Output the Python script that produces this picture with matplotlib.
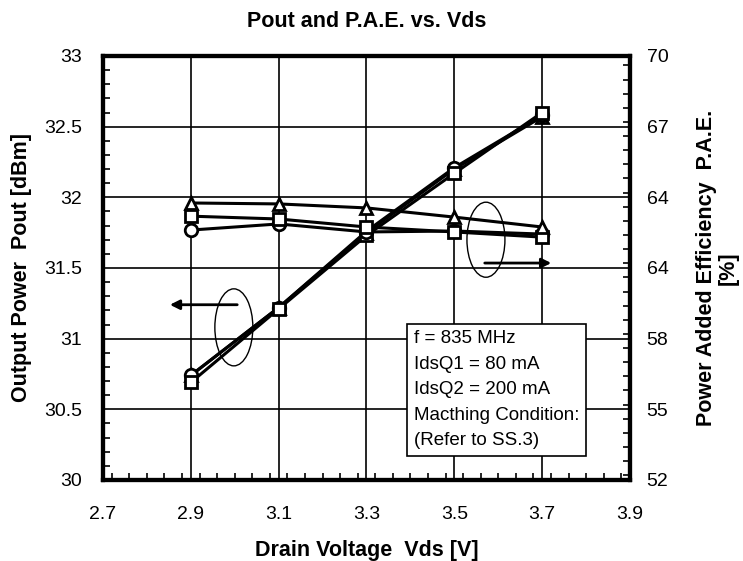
import numpy as np
import matplotlib
matplotlib.use('Agg')
import matplotlib.pyplot as plt
from matplotlib.patches import Ellipse
from matplotlib.ticker import MultipleLocator

vds = [2.9, 3.1, 3.3, 3.5, 3.7]

# Output power [dBm]
pout_tri = [30.74, 31.22, 31.75, 32.20, 32.57]
pout_circ = [30.74, 31.22, 31.76, 32.21, 32.58]
pout_sq = [30.69, 31.21, 31.73, 32.17, 32.60]

# Power added efficiency [%]
pae_tri = [63.76, 63.72, 63.55, 63.16, 62.74]
pae_sq = [63.20, 63.08, 62.74, 62.53, 62.31]
pae_circ = [62.61, 62.87, 62.53, 62.57, 62.44]

x_ticks = [2.7, 2.9, 3.1, 3.3, 3.5, 3.7, 3.9]
y_ticks = [30, 30.5, 31, 31.5, 32, 32.5, 33]
y_labels = ['30', '30.5', '31', '31.5', '32', '32.5', '33']
y2_ticks = [52, 55, 58, 61, 64, 67, 70]
y2_labels = ['52', '55', '58', '64', '64', '67', '70']

reg = ['Liberation Sans', 'DejaVu Sans']

fig = plt.figure(figsize=(7.43, 5.61), dpi=100)
ax = fig.add_axes([0.1386, 0.1444, 0.7093, 0.7558])
ax2 = ax.twinx()

ax.set_xlim(2.7, 3.9)
ax.set_ylim(30, 33)
ax2.set_ylim(52, 70)

ax.set_xticks(x_ticks)
ax.set_xticklabels([str(v) for v in x_ticks], family=reg, fontsize=14)
ax.set_yticks(y_ticks)
ax.set_yticklabels(y_labels, family=reg, fontsize=14)
ax2.set_yticks(y2_ticks)
ax2.set_yticklabels(y2_labels, family=reg, fontsize=14)

ax.xaxis.set_minor_locator(MultipleLocator(0.04))
ax.yaxis.set_minor_locator(MultipleLocator(0.1))
ax2.yaxis.set_minor_locator(MultipleLocator(0.6))

ax.tick_params(axis='both', which='both', direction='in', top=False, right=False, width=1.2)
ax.tick_params(axis='x', which='major', length=0, pad=19)
ax.tick_params(axis='y', which='major', length=0, pad=15)
ax.tick_params(which='minor', length=5)
ax2.tick_params(axis='y', which='both', direction='in', width=1.2)
ax2.tick_params(which='major', length=0, pad=12)
ax2.tick_params(which='minor', length=5)

ax.grid(True, which='major', color='black', linewidth=1.2)
ax.set_axisbelow(True)

for a in (ax, ax2):
    for s in a.spines.values():
        s.set_linewidth(3)

mk = dict(color='black', linewidth=2.2, markerfacecolor='white',
          markeredgecolor='black', markeredgewidth=2, markersize=9)

ax.plot(vds, pout_tri, marker='^', **mk)
ax.plot(vds, pout_circ, marker='o', **mk)
ax.plot(vds, pout_sq, marker='s', **mk)

ax2.plot(vds, pae_circ, marker='o', **mk)
ax2.plot(vds, pae_sq, marker='s', **mk)
ax2.plot(vds, pae_tri, marker='^', **mk)

# curve group markers
ax.add_patch(Ellipse((2.998, 31.08), 0.0865, 0.545, fill=False, edgecolor='black', linewidth=1))
ax.annotate('', xy=(2.846, 31.24), xytext=(3.012, 31.24),
            arrowprops=dict(arrowstyle='-|>', color='black', linewidth=2, mutation_scale=14))
ax.add_patch(Ellipse((3.572, 31.70), 0.0865, 0.531, fill=False, edgecolor='black', linewidth=1))
ax.annotate('', xy=(3.727, 31.535), xytext=(3.563, 31.535),
            arrowprops=dict(arrowstyle='-|>', color='black', linewidth=2, mutation_scale=14))

ax.text(3.408, 31.06, 'f = 835 MHz\nIdsQ1 = 80 mA\nIdsQ2 = 200 mA\nMacthing Condition:\n(Refer to SS.3)',
        family=reg, fontsize=13.5, va='top', ha='left', linespacing=1.65, zorder=5,
        bbox=dict(boxstyle='square,pad=0.35', facecolor='white', edgecolor='black', linewidth=1.2))

ax.set_title('Pout and P.A.E. vs. Vds', family=reg, fontweight='bold', fontsize=15.5, pad=21)
ax.set_xlabel('Drain Voltage  Vds [V]', family=reg, fontweight='bold', fontsize=15.5, labelpad=12)
ax.set_ylabel('Output Power  Pout [dBm]', family=reg, fontweight='bold', fontsize=15.5, labelpad=9)
ax2.set_ylabel('Power Added Efficiency  P.A.E.\n[%]', family=reg, fontweight='bold', fontsize=15.5,
               labelpad=20, linespacing=1.0)

plt.savefig('out.png', dpi=100)
